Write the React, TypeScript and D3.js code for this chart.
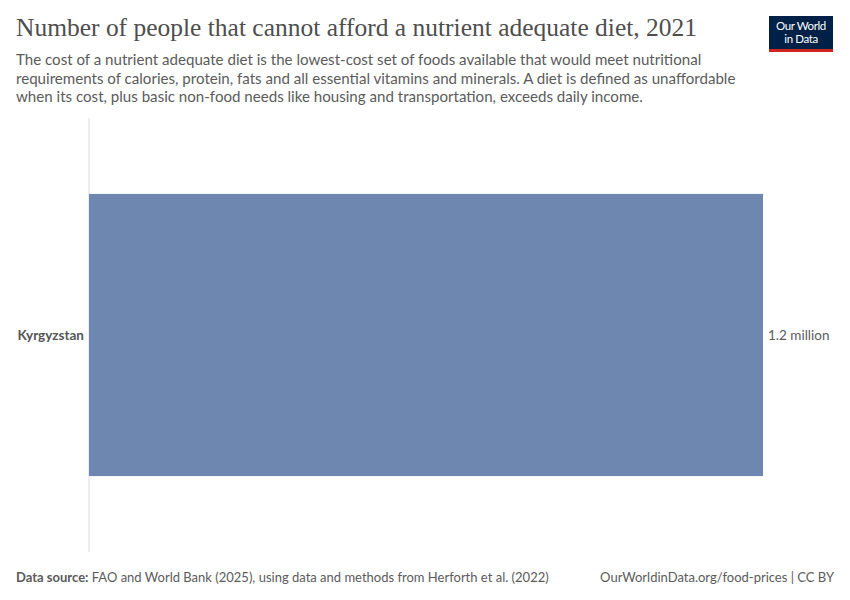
import React from 'react';
import { scaleBand, scaleLinear } from 'd3';

const countries = ['Kyrgyzstan'];
const values = [1.2e6];
const valueLabels = ['1.2 million'];

const subtitleLines = [
  'The cost of a nutrient adequate diet is the lowest-cost set of foods available that would meet nutritional',
  'requirements of calories, protein, fats and all essential vitamins and minerals. A diet is defined as unaffordable',
  'when its cost, plus basic non-food needs like housing and transportation, exceeds daily income.',
];

const dim = {
  width: 850,
  height: 600,
  left: 89,
  right: 763,
  top: 118,
  bottom: 552,
};

const App = () => {
  const x = scaleLinear().domain([0, 1.2e6]).range([dim.left, dim.right]);
  const y = scaleBand<string>()
    .domain(countries)
    .range([dim.top, dim.bottom])
    .padding(0.212);

  return (
    <svg
      width={dim.width}
      height={dim.height}
      style={{ position: 'absolute', left: 0, top: 0, background: 'white' }}
      fontFamily="Lato, 'Noto Sans', sans-serif"
    >
      <text
        x={16}
        y={36}
        fontFamily="'Liberation Serif', 'DejaVu Serif', serif"
        fontSize={25.5}
        fill="#4e4e4e"
        textLength={681}
        lengthAdjust="spacingAndGlyphs"
      >
        Number of people that cannot afford a nutrient adequate diet, 2021
      </text>
      {subtitleLines.map((line, i) => (
        <text key={i} x={16} y={65 + i * 18.5} fontSize={15.1} fill="#5b5b5b">
          {line}
        </text>
      ))}

      <g>
        <rect x={769} y={16} width={64} height={36} fill="#002147" />
        <rect x={769} y={49} width={64} height={3} fill="#ce261e" />
        <text x={801} y={30} textAnchor="middle" fontSize={11.5} fill="white" letterSpacing={-0.4}>
          Our World
        </text>
        <text x={801} y={43} textAnchor="middle" fontSize={11.5} fill="white" letterSpacing={-0.4}>
          in Data
        </text>
      </g>

      <line x1={dim.left} x2={dim.left} y1={dim.top} y2={dim.bottom} stroke="#dadada" strokeWidth={1} />

      {countries.map((c, i) => (
        <g key={c}>
          <rect
            x={x(0)}
            y={y(c)}
            width={x(values[i]) - x(0)}
            height={y.bandwidth()}
            fill="#6d87b1"
          />
          <text
            x={dim.left - 5}
            y={(y(c) ?? 0) + y.bandwidth() / 2}
            dy="0.35em"
            textAnchor="end"
            fontSize={13.5}
            fontWeight="bold"
            fill="#555"
          >
            {c}
          </text>
          <text
            x={x(values[i]) + 5}
            y={(y(c) ?? 0) + y.bandwidth() / 2}
            dy="0.35em"
            fontSize={13.5}
            fill="#5b5b5b"
          >
            {valueLabels[i]}
          </text>
        </g>
      ))}

      <text x={16} y={582} fontSize={13} fill="#5b5b5b">
        <tspan fontWeight="bold">Data source:</tspan> FAO and World Bank (2025), using data and methods from Herforth et al. (2022)
      </text>
      <text x={834} y={582} fontSize={13} fill="#5b5b5b" textAnchor="end">
        OurWorldinData.org/food-prices | CC BY
      </text>
    </svg>
  );
};

export default App;
